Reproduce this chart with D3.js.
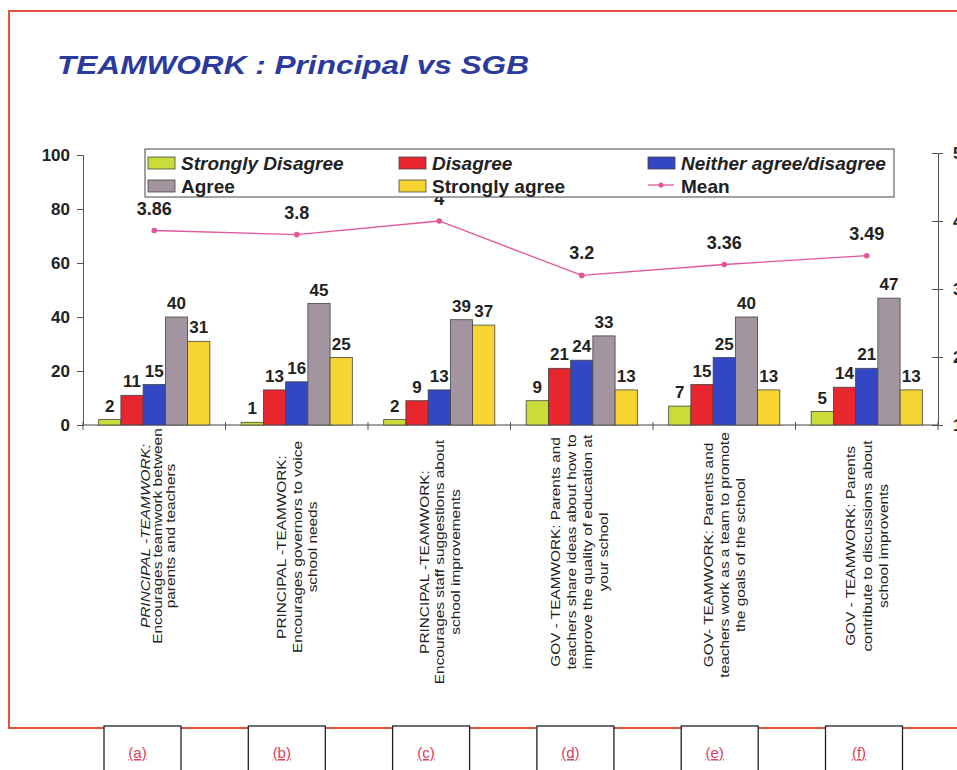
<!DOCTYPE html>
<html>
<head>
<meta charset="utf-8">
<script src="https://cdn.jsdelivr.net/npm/d3@7"></script>
<style>
  html, body { margin: 0; padding: 0; background: #fff; }
  svg { display: block; font-family: Arial, "Liberation Sans", sans-serif; }
</style>
</head>
<body>
<svg id="chart" width="957" height="770"></svg>
<script>
// ---------- data ----------
const categories = ["a", "b", "c", "d", "e", "f"];
const categoryLabels = [
  ["PRINCIPAL -TEAMWORK:", "Encourages teamwork between", "parents and teachers"],
  ["PRINCIPAL -TEAMWORK:", "Encourages governors to voice", "school needs"],
  ["PRINCIPAL -TEAMWORK:", "Encourages staff suggestions about", "school improvements"],
  ["GOV - TEAMWORK:  Parents and", "teachers share ideas about how to", "improve the quality of education at", "your school"],
  ["GOV- TEAMWORK:  Parents and", "teachers work as a team to promote", "the goals of the school"],
  ["GOV - TEAMWORK:  Parents", "contribute to discussions about", "school improvents"]
];
const panelTags = ["(a)", "(b)", "(c)", "(d)", "(e)", "(f)"];
const seriesNames = ["Strongly Disagree", "Disagree", "Neither agree/disagree", "Agree", "Strongly agree"];
const stronglyDisagree = [2, 1, 2, 9, 7, 5];
const disagree = [11, 13, 9, 21, 15, 14];
const neither = [15, 16, 13, 24, 25, 21];
const agree = [40, 45, 39, 33, 40, 47];
const stronglyAgree = [31, 25, 37, 13, 13, 13];
const meanValues = [3.86, 3.8, 4, 3.2, 3.36, 3.49];
const leftTicks = [0, 20, 40, 60, 80, 100];
const rightTicks = [1, 2, 3, 4, 5];
const title = "TEAMWORK : Principal vs SGB";

// ---------- styles ----------
const seriesValues = [stronglyDisagree, disagree, neither, agree, stronglyAgree];
const colors = ["#c9dc3a", "#e8262e", "#3346c4", "#a3959f", "#f6d532"];
const meanColor = "#e2559b";
const frameColor = "#e2523c";

const svg = d3.select("#chart");

// frame
svg.append("path")
  .attr("d", "M957,11 L9,11 L9,728 L957,728")
  .attr("fill", "none").attr("stroke", frameColor).attr("stroke-width", 2);

// title
svg.append("text")
  .attr("x", 57).attr("y", 74)
  .attr("font-size", 26).attr("font-weight", "bold").attr("font-style", "italic")
  .attr("fill", "#2c3a9e")
  .attr("textLength", 472).attr("lengthAdjust", "spacingAndGlyphs")
  .text(title);

// scales
const x0 = d3.scaleBand().domain(categories).range([83, 938]).paddingInner(0.22).paddingOuter(0.11);
const x1 = d3.scaleBand().domain(d3.range(seriesNames.length)).range([0, x0.bandwidth()]);
const y = d3.scaleLinear().domain([0, 100]).range([425, 155]);
const y2 = d3.scaleLinear().domain([1, 5]).range([425, 153]);

// left axis
const gL = svg.append("g").attr("transform", "translate(83,0)")
  .call(d3.axisLeft(y).tickValues(leftTicks).tickSize(6).tickPadding(7));
gL.select(".domain").attr("stroke", "#555");
gL.selectAll(".tick line").attr("stroke", "#555");
gL.selectAll(".tick text").attr("font-size", 17).attr("font-weight", "bold")
  .attr("fill", "#222").attr("font-family", "Arial, 'Liberation Sans', sans-serif");

// right axis
const gR = svg.append("g").attr("transform", "translate(938,0)")
  .call(d3.axisRight(y2).tickValues(rightTicks).tickSize(5).tickPadding(10).tickSizeOuter(0));
gR.select(".domain").attr("stroke", "#555");
gR.selectAll(".tick line").attr("stroke", "#555").attr("x1", -6);
gR.selectAll(".tick text").attr("font-size", 17).attr("font-weight", "bold")
  .attr("fill", "#222").attr("font-family", "Arial, 'Liberation Sans', sans-serif");

// x axis line + boundary ticks
svg.append("line").attr("x1", 83).attr("x2", 938).attr("y1", 425).attr("y2", 425)
  .attr("stroke", "#444").attr("stroke-width", 1.2);
svg.selectAll(".xb").data(d3.range(categories.length + 1)).join("line")
  .attr("x1", i => 83 + i * (855 / categories.length))
  .attr("x2", i => 83 + i * (855 / categories.length))
  .attr("y1", 422).attr("y2", 430).attr("stroke", "#555");

// bars
const groups = svg.selectAll(".grp").data(categories).join("g")
  .attr("transform", d => `translate(${x0(d)},0)`);
groups.each(function(cat, ci) {
  const g = d3.select(this);
  seriesValues.forEach((vals, si) => {
    g.append("rect")
      .attr("x", x1(si)).attr("width", x1.bandwidth())
      .attr("y", y(vals[ci])).attr("height", y(0) - y(vals[ci]))
      .attr("fill", colors[si]).attr("stroke", "#444").attr("stroke-width", 0.8);
    g.append("text")
      .attr("x", x1(si) + x1.bandwidth() / 2).attr("y", y(vals[ci]) - 8)
      .attr("text-anchor", "middle").attr("font-size", 17).attr("font-weight", "bold")
      .attr("fill", "#222").text(vals[ci]);
  });
});

// mean line
const cx = (d, i) => x0(categories[i]) + x0.bandwidth() / 2;
svg.append("path")
  .datum(meanValues)
  .attr("d", d3.line().x((d, i) => cx(d, i)).y(d => y2(d)))
  .attr("fill", "none").attr("stroke", meanColor).attr("stroke-width", 1.3);
svg.selectAll(".mpt").data(meanValues).join("circle")
  .attr("cx", (d, i) => cx(d, i)).attr("cy", d => y2(d)).attr("r", 2.8)
  .attr("fill", meanColor);
svg.selectAll(".mlab").data(meanValues).join("text")
  .attr("x", (d, i) => cx(d, i)).attr("y", d => y2(d) - 16)
  .attr("text-anchor", "middle").attr("font-size", 18).attr("font-weight", "bold")
  .attr("fill", "#222").text(d => d);

// legend
const lg = svg.append("g");
lg.append("rect").attr("x", 145).attr("y", 149).attr("width", 749).attr("height", 48)
  .attr("fill", "#fff").attr("stroke", "#444").attr("stroke-width", 1);
const legendItems = [
  { type: "bar", si: 0, col: 0, row: 0 },
  { type: "bar", si: 1, col: 1, row: 0 },
  { type: "bar", si: 2, col: 2, row: 0 },
  { type: "bar", si: 3, col: 0, row: 1 },
  { type: "bar", si: 4, col: 1, row: 1 },
  { type: "mean", col: 2, row: 1 }
];
const colX = [148, 399, 648];
const rowY = [163, 186];
legendItems.forEach(it => {
  const lx = colX[it.col], ly = rowY[it.row];
  if (it.type === "bar") {
    lg.append("rect").attr("x", lx).attr("y", ly - 6).attr("width", 27).attr("height", 12)
      .attr("fill", colors[it.si]).attr("stroke", "#444").attr("stroke-width", 0.8);
  } else {
    lg.append("line").attr("x1", lx).attr("x2", lx + 26).attr("y1", ly - 1).attr("y2", ly - 1)
      .attr("stroke", meanColor).attr("stroke-width", 1.3);
    lg.append("circle").attr("cx", lx + 13).attr("cy", ly - 1).attr("r", 2.6).attr("fill", meanColor);
  }
  lg.append("text").attr("x", lx + 33).attr("y", ly + 6.5)
    .attr("font-size", 19).attr("font-weight", "bold")
    .attr("font-style", it.row === 0 ? "italic" : "normal")
    .attr("fill", "#222")
    .text(it.type === "bar" ? seriesNames[it.si] : "Mean");
});

// category labels (rotated, slightly stretched along the text direction)
const labelCenterY = [536, 547, 562, 552, 555, 546];
const labelLineH = [12.5, 15.5, 15.5, 16, 16, 16.5];
const labelShiftX = [3, 0, 0, -3, 0, 0];
categories.forEach((c, i) => {
  const lines = categoryLabels[i];
  const cxx = x0(c) + x0.bandwidth() / 2 + labelShiftX[i];
  const t = svg.append("text")
    .attr("transform", `translate(${cxx},${labelCenterY[i]}) rotate(-90) scale(1.14,1)`)
    .attr("text-anchor", "middle").attr("font-size", 13.5).attr("fill", "#222");
  lines.forEach((ln, k) => {
    t.append("tspan").attr("x", 0)
      .attr("y", (k - (lines.length - 1) / 2) * labelLineH[i] + 5)
      .attr("font-style", (i === 0 && k === 0) ? "italic" : "normal")
      .text(ln);
  });
});

// panel tag boxes at the bottom
const tagX = d3.scaleLinear().domain([0, panelTags.length - 1]).range([142.5, 864]);
const tags = svg.selectAll(".tag").data(panelTags).join("g")
  .attr("transform", (d, i) => `translate(${tagX(i)},0)`);
tags.append("rect").attr("x", -38.5).attr("y", 726).attr("width", 77).attr("height", 60)
  .attr("fill", "#fff").attr("stroke", "#222").attr("stroke-width", 1.3);
tags.append("text").attr("x", -5).attr("y", 758).attr("text-anchor", "middle")
  .attr("font-size", 15).attr("fill", "#d8405e").attr("text-decoration", "underline")
  .text(d => d);
</script>
</body>
</html>
